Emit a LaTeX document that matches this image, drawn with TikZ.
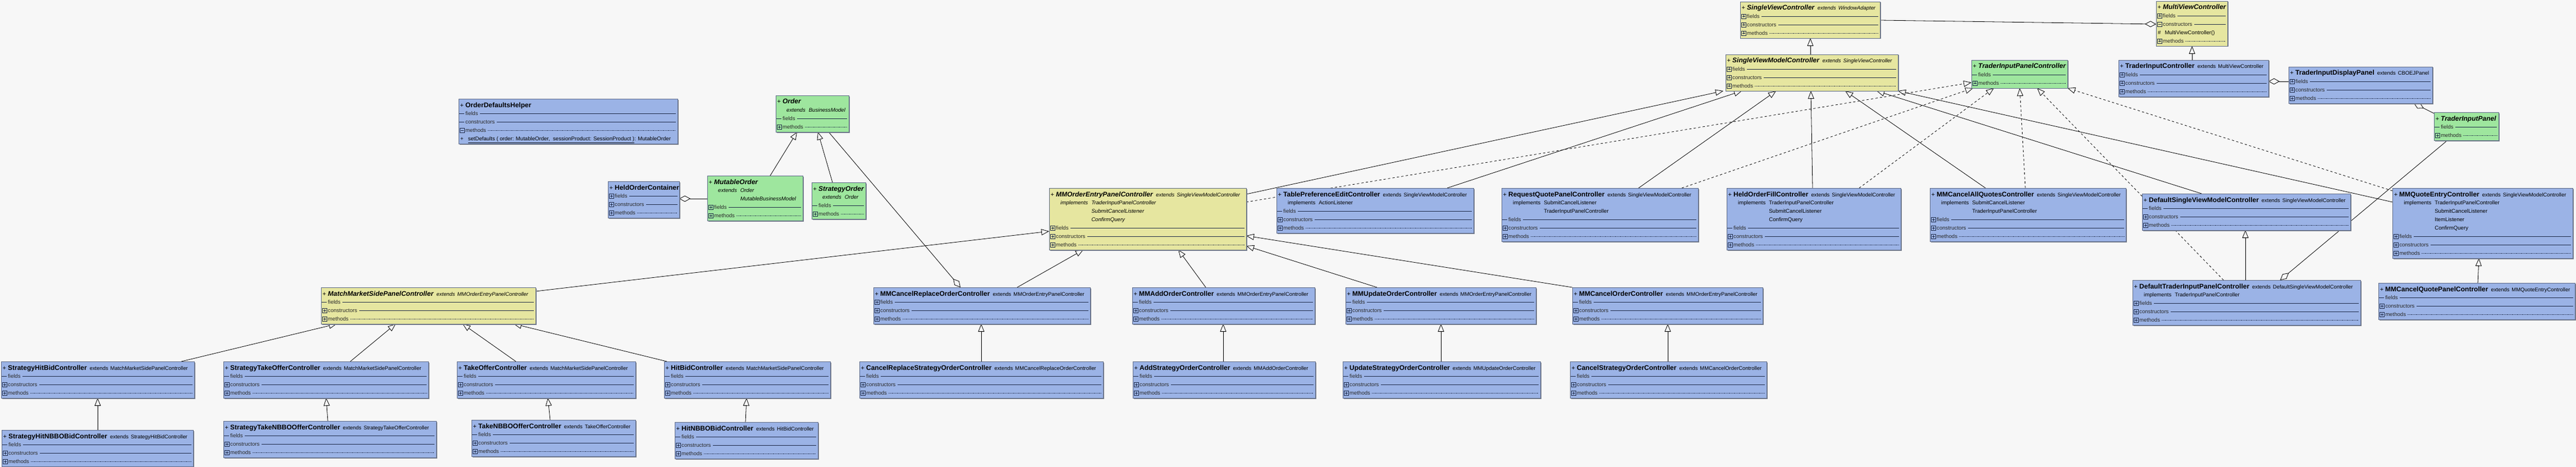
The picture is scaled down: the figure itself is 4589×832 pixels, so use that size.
\documentclass[tikz,border=0pt]{standalone}
\usepackage{fontspec}
\setmainfont{Liberation Sans}
\usetikzlibrary{arrows.meta,calc}
\definecolor{bgc}{HTML}{F7F7F7}
\definecolor{yel}{HTML}{E6E6A0}
\definecolor{grn}{HTML}{9EE69E}
\definecolor{blu}{HTML}{9BB3E6}
\definecolor{sepc}{HTML}{1E2A48}
\definecolor{shd}{HTML}{7E8490}
\definecolor{bordc}{HTML}{5E6A86}
\definecolor{txtc}{HTML}{2A2A2A}
\pgfdeclarelayer{back}
\pgfdeclarelayer{lines}
\pgfsetlayers{back,lines,main}
\tikzset{
  ubox/.style={rectangle, draw=bordc, line width=0.6pt, inner sep=0pt, outer sep=0pt, anchor=north west},
  ttext/.style={anchor=base west, inner sep=0pt, font=\fontsize{12}{14}\selectfont, text=black},
  ctext/.style={anchor=base west, inner sep=0pt, font=\fontsize{9.6}{11}\selectfont, text=txtc},
  septsol/.style={draw=sepc, line width=0.8pt},
  septdot/.style={draw=sepc, line width=0.6pt, dash pattern=on 0.6pt off 1.2pt},
  iconst/.style={draw=sepc, line width=0.6pt},
  inh/.style={draw=black, line width=0.8pt, -{Triangle[open, length=14pt, width=11pt, line width=0.8pt]}},
  real/.style={inh, dash pattern=on 4pt off 4pt},
  agg/.style={draw=black, line width=0.8pt, {Diamond[open, length=20pt, width=11pt, line width=0.8pt]}-}
}
% box: name, x0, x1, top, nlines, colour
\newcommand\ubx[6]{%
  \pgfmathsetmacro\ubw{#3-#2}%
  \pgfmathsetmacro\ubh{15*#5+5}%
  \fill[shd] (#2+1.5,#4+1.5) rectangle ++(\ubw,\ubh);
  \node[ubox, fill=#6, minimum width=\ubw pt, minimum height=\ubh pt] (#1) at (#2,#4) {};
}
\newcommand\uttl[2]{\node[ttext] (#1-t) at ($(#1.north west)+(2.5,15)$) {#2};}
\newcommand\ucn[1]{\textbf{#1}}
\newcommand\uacn[1]{\textbf{\textit{#1}}}
\newcommand\uext[1]{{\fontsize{9.4}{11}\selectfont\hspace{5pt}extends\hspace{4pt}#1}}
\newcommand\uiext[1]{{\fontsize{9.4}{11}\selectfont\itshape\hspace{5pt}extends\hspace{4pt}#1}}
\newcommand\upm{{\fontsize{11}{12}\selectfont+}\hspace{3pt}}
\newcommand\uln[4]{\node[ctext, text=black] (#1-l#2) at ($(#1.north west)+(#3,{14.5+15*#2})$) {#4};}
\newcommand\icp[2]{%
  \draw[iconst] ($(#1.north west)+(2,{7+15*#2})$) rectangle ($(#1.north west)+(10,{15+15*#2})$);
  \draw[iconst] ($(#1.north west)+(3.5,{11+15*#2})$) -- ($(#1.north west)+(8.5,{11+15*#2})$);
  \draw[iconst] ($(#1.north west)+(6,{8.5+15*#2})$) -- ($(#1.north west)+(6,{13.5+15*#2})$);}
\newcommand\icm[2]{%
  \draw[iconst] ($(#1.north west)+(2,{7+15*#2})$) rectangle ($(#1.north west)+(10,{15+15*#2})$);
  \draw[iconst] ($(#1.north west)+(3.5,{11+15*#2})$) -- ($(#1.north west)+(8.5,{11+15*#2})$);}
\newcommand\icd[2]{%
  \draw[iconst] ($(#1.north west)+(1,{11+15*#2})$) -- ($(#1.north west)+(10,{11+15*#2})$);}
% compartment: box, k, icon, label, style
\newcommand\ucomp[5]{%
  \node[ctext] (#1-c#2) at ($(#1.north west)+(12,{14.5+15*#2})$) {#4};
  #3{#1}{#2}%
  \draw[#5] ($(#1-c#2.base east)+(3,-3.5)$) -- ($(#1.north east)+(-3,{11+15*#2})$);
}
\newcommand\ustd[5]{%
  \ucomp{#1}{#2}{#3}{fields}{septsol}
  \pgfmathtruncatemacro\uka{#2+1}\pgfmathtruncatemacro\ukb{#2+2}%
  \ucomp{#1}{\uka}{#4}{constructors}{septsol}
  \ucomp{#1}{\ukb}{#5}{methods}{septdot}
}
\begin{document}
\begin{tikzpicture}[x=1pt,y=-1pt]
\begin{pgfonlayer}{back}
\fill[bgc] (0,0) rectangle (4589,832);
\end{pgfonlayer}
\useasboundingbox (0,0) rectangle (4589,832);

% ---------- top right ----------
\ubx{svc}{3100}{3349}{3}{4}{yel}
\uttl{svc}{\upm\uacn{SingleViewController}\uiext{WindowAdapter}}
\ustd{svc}{1}{\icp}{\icp}{\icp}

\ubx{mvc}{3841}{3968}{2}{5}{yel}
\uttl{mvc}{\upm\uacn{MultiViewController}}
\ucomp{mvc}{1}{\icp}{fields}{septsol}
\ucomp{mvc}{2}{\icm}{constructors}{septsol}
\uln{mvc}{3}{3}{\#\hspace{7pt}MultiViewController()}
\ucomp{mvc}{4}{\icp}{methods}{septdot}

\ubx{svmc}{3074}{3381}{97}{4}{yel}
\uttl{svmc}{\upm\uacn{SingleViewModelController}\uiext{SingleViewController}}
\ustd{svmc}{1}{\icp}{\icp}{\icp}

\ubx{tipc}{3512}{3683}{107}{3}{grn}
\uttl{tipc}{\upm\uacn{TraderInputPanelController}}
\ucomp{tipc}{1}{\icd}{fields}{septsol}
\ucomp{tipc}{2}{\icp}{methods}{septdot}

\ubx{tic}{3774}{4041}{107}{4}{blu}
\uttl{tic}{\upm\ucn{TraderInputController}\uext{MultiViewController}}
\ustd{tic}{1}{\icp}{\icp}{\icp}

\ubx{tidp}{4077}{4333}{119}{4}{blu}
\uttl{tidp}{\upm\ucn{TraderInputDisplayPanel}\uext{CBOEJPanel}}
\ustd{tidp}{1}{\icp}{\icp}{\icp}

\ubx{tip}{4336}{4451}{200}{3}{grn}
\uttl{tip}{\upm\uacn{TraderInputPanel}}
\ucomp{tip}{1}{\icd}{fields}{septsol}
\ucomp{tip}{2}{\icp}{methods}{septdot}

% ---------- upper left ----------
\ubx{odh}{817}{1207}{176}{5}{blu}
\uttl{odh}{\upm\ucn{OrderDefaultsHelper}}
\ucomp{odh}{1}{\icd}{fields}{septsol}
\ucomp{odh}{2}{\icd}{constructors}{septsol}
\ucomp{odh}{3}{\icm}{methods}{septdot}
\uln{odh}{4}{3}{+\hspace{8pt}\underline{setDefaults ( order: MutableOrder,\ \ sessionProduct: SessionProduct )}: MutableOrder}

\ubx{order}{1382}{1512}{170}{4}{grn}
\uttl{order}{\upm\uacn{Order}}
\uln{order}{1}{19}{\textit{extends\hspace{6pt}BusinessModel}}
\ucomp{order}{2}{\icd}{fields}{septsol}
\ucomp{order}{3}{\icp}{methods}{septdot}

\ubx{hoc}{1083}{1210}{323}{4}{blu}
\uttl{hoc}{\upm\ucn{HeldOrderContainer}}
\ustd{hoc}{1}{\icp}{\icp}{\icp}

\ubx{mo}{1260}{1430}{313}{5}{grn}
\uttl{mo}{\upm\uacn{MutableOrder}}
\uln{mo}{1}{19}{\textit{extends\hspace{6pt}Order}}
\uln{mo}{2}{19}{\textit{\phantom{extends\hspace{6pt}}MutableBusinessModel}}
\ucomp{mo}{3}{\icp}{fields}{septsol}
\ucomp{mo}{4}{\icp}{methods}{septdot}

\ubx{so}{1446}{1542}{325}{4}{grn}
\uttl{so}{\upm\uacn{StrategyOrder}}
\uln{so}{1}{19}{\textit{extends\hspace{6pt}Order}}
\ucomp{so}{2}{\icd}{fields}{septsol}
\ucomp{so}{3}{\icp}{methods}{septdot}

% ---------- middle row ----------
\ubx{mmoepc}{1869}{2220}{335}{7}{yel}
\uttl{mmoepc}{\upm\uacn{MMOrderEntryPanelController}\uiext{SingleViewModelController}}
\uln{mmoepc}{1}{20}{\textit{implements\hspace{6pt}TraderInputPanelController}}
\uln{mmoepc}{2}{20}{\textit{\phantom{implements\hspace{6pt}}SubmitCancelListener}}
\uln{mmoepc}{3}{20}{\textit{\phantom{implements\hspace{6pt}}ConfirmQuery}}
\ustd{mmoepc}{4}{\icp}{\icp}{\icp}

\ubx{tpec}{2274}{2625}{335}{5}{blu}
\uttl{tpec}{\upm\ucn{TablePreferenceEditController}\uext{SingleViewModelController}}
\uln{tpec}{1}{20}{implements\hspace{6pt}ActionListener}
\ustd{tpec}{2}{\icd}{\icp}{\icp}

\ubx{rqpc}{2675}{3025}{335}{6}{blu}
\uttl{rqpc}{\upm\ucn{RequestQuotePanelController}\uext{SingleViewModelController}}
\uln{rqpc}{1}{20}{implements\hspace{6pt}SubmitCancelListener}
\uln{rqpc}{2}{20}{\phantom{implements\hspace{6pt}}TraderInputPanelController}
\ustd{rqpc}{3}{\icd}{\icp}{\icp}

\ubx{hofc}{3076}{3386}{335}{7}{blu}
\uttl{hofc}{\upm\ucn{HeldOrderFillController}\uext{SingleViewModelController}}
\uln{hofc}{1}{20}{implements\hspace{6pt}TraderInputPanelController}
\uln{hofc}{2}{20}{\phantom{implements\hspace{6pt}}SubmitCancelListener}
\uln{hofc}{3}{20}{\phantom{implements\hspace{6pt}}ConfirmQuery}
\ustd{hofc}{4}{\icd}{\icp}{\icp}

\ubx{mmcaqc}{3438}{3787}{335}{6}{blu}
\uttl{mmcaqc}{\upm\ucn{MMCancelAllQuotesController}\uext{SingleViewModelController}}
\uln{mmcaqc}{1}{20}{implements\hspace{6pt}SubmitCancelListener}
\uln{mmcaqc}{2}{20}{\phantom{implements\hspace{6pt}}TraderInputPanelController}
\ustd{mmcaqc}{3}{\icp}{\icp}{\icp}

\ubx{dsvmc}{3816}{4187}{345}{4}{blu}
\uttl{dsvmc}{\upm\ucn{DefaultSingleViewModelController}\uext{SingleViewModelController}}
\ustd{dsvmc}{1}{\icd}{\icp}{\icp}

\ubx{mmqec}{4262}{4583}{335}{8}{blu}
\uttl{mmqec}{\upm\ucn{MMQuoteEntryController}\uext{SingleViewModelController}}
\uln{mmqec}{1}{20}{implements\hspace{6pt}TraderInputPanelController}
\uln{mmqec}{2}{20}{\phantom{implements\hspace{6pt}}SubmitCancelListener}
\uln{mmqec}{3}{20}{\phantom{implements\hspace{6pt}}ItemListener}
\uln{mmqec}{4}{20}{\phantom{implements\hspace{6pt}}ConfirmQuery}
\ustd{mmqec}{5}{\icp}{\icp}{\icp}

% ---------- third row ----------
\ubx{mmspc}{572}{954}{512}{4}{yel}
\uttl{mmspc}{\upm\uacn{MatchMarketSidePanelController}\uiext{MMOrderEntryPanelController}}
\ustd{mmspc}{1}{\icd}{\icp}{\icp}

\ubx{mmcroc}{1556}{1942}{512}{4}{blu}
\uttl{mmcroc}{\upm\ucn{MMCancelReplaceOrderController}\uext{MMOrderEntryPanelController}}
\ustd{mmcroc}{1}{\icp}{\icp}{\icp}

\ubx{mmaoc}{2017}{2342}{512}{4}{blu}
\uttl{mmaoc}{\upm\ucn{MMAddOrderController}\uext{MMOrderEntryPanelController}}
\ustd{mmaoc}{1}{\icd}{\icp}{\icp}

\ubx{mmuoc}{2397}{2736}{512}{4}{blu}
\uttl{mmuoc}{\upm\ucn{MMUpdateOrderController}\uext{MMOrderEntryPanelController}}
\ustd{mmuoc}{1}{\icd}{\icp}{\icp}

\ubx{mmcoc}{2801}{3140}{512}{4}{blu}
\uttl{mmcoc}{\upm\ucn{MMCancelOrderController}\uext{MMOrderEntryPanelController}}
\ustd{mmcoc}{1}{\icd}{\icp}{\icp}

\ubx{dtipc}{3799}{4205}{499}{5}{blu}
\uttl{dtipc}{\upm\ucn{DefaultTraderInputPanelController}\uext{DefaultSingleViewModelController}}
\uln{dtipc}{1}{20}{implements\hspace{6pt}TraderInputPanelController}
\ustd{dtipc}{2}{\icp}{\icp}{\icp}

\ubx{mmcqpc}{4237}{4587}{504}{4}{blu}
\uttl{mmcqpc}{\upm\ucn{MMCancelQuotePanelController}\uext{MMQuoteEntryController}}
\ustd{mmcqpc}{1}{\icd}{\icp}{\icp}

% ---------- fourth row ----------
\ubx{shbc}{2}{346}{644}{4}{blu}
\uttl{shbc}{\upm\ucn{StrategyHitBidController}\uext{MatchMarketSidePanelController}}
\ustd{shbc}{1}{\icd}{\icp}{\icp}

\ubx{stoc}{398}{763}{644}{4}{blu}
\uttl{stoc}{\upm\ucn{StrategyTakeOfferController}\uext{MatchMarketSidePanelController}}
\ustd{stoc}{1}{\icd}{\icp}{\icp}

\ubx{toc}{814}{1132}{644}{4}{blu}
\uttl{toc}{\upm\ucn{TakeOfferController}\uext{MatchMarketSidePanelController}}
\ustd{toc}{1}{\icd}{\icp}{\icp}

\ubx{hbc}{1183}{1479}{644}{4}{blu}
\uttl{hbc}{\upm\ucn{HitBidController}\uext{MatchMarketSidePanelController}}
\ustd{hbc}{1}{\icd}{\icp}{\icp}

\ubx{crsoc}{1531}{1965}{644}{4}{blu}
\uttl{crsoc}{\upm\ucn{CancelReplaceStrategyOrderController}\uext{MMCancelReplaceOrderController}}
\ustd{crsoc}{1}{\icd}{\icp}{\icp}

\ubx{asoc}{2018}{2343}{644}{4}{blu}
\uttl{asoc}{\upm\ucn{AddStrategyOrderController}\uext{MMAddOrderController}}
\ustd{asoc}{1}{\icd}{\icp}{\icp}

\ubx{usoc}{2392}{2744}{644}{4}{blu}
\uttl{usoc}{\upm\ucn{UpdateStrategyOrderController}\uext{MMUpdateOrderController}}
\ustd{usoc}{1}{\icd}{\icp}{\icp}

\ubx{csoc}{2797}{3147}{644}{4}{blu}
\uttl{csoc}{\upm\ucn{CancelStrategyOrderController}\uext{MMCancelOrderController}}
\ustd{csoc}{1}{\icd}{\icp}{\icp}

% ---------- fifth row ----------
\ubx{shnbc}{3}{344}{766}{4}{blu}
\uttl{shnbc}{\upm\ucn{StrategyHitNBBOBidController}\uext{StrategyHitBidController}}
\ustd{shnbc}{1}{\icd}{\icp}{\icp}

\ubx{stnoc}{398}{777}{750}{4}{blu}
\uttl{stnoc}{\upm\ucn{StrategyTakeNBBOOfferController}\uext{StrategyTakeOfferController}}
\ustd{stnoc}{1}{\icd}{\icp}{\icp}

\ubx{tnoc}{840}{1132}{748}{4}{blu}
\uttl{tnoc}{\upm\ucn{TakeNBBOOfferController}\uext{TakeOfferController}}
\ustd{tnoc}{1}{\icd}{\icp}{\icp}

\ubx{hnbc}{1202}{1457}{752}{4}{blu}
\uttl{hnbc}{\upm\ucn{HitNBBOBidController}\uext{HitBidController}}
\ustd{hnbc}{1}{\icd}{\icp}{\icp}

% ---------- connectors ----------
\begin{pgfonlayer}{lines}
% generalisation
\draw[inh] ([xshift=151pt]svmc.north west) -- ([xshift=125pt]svc.south west);
\draw[inh] ([xshift=131pt]tic.north west) -- ([xshift=64pt]mvc.south west);
\draw[inh] ([yshift=-11pt]mmoepc.north east) -- ([xshift=-4pt]svmc.south west);
\draw[inh] ([xshift=304pt]tpec.north west) -- ([xshift=29pt]svmc.south west);
\draw[inh] ([xshift=244pt]rqpc.north west) -- ([xshift=90pt]svmc.south west);
\draw[inh] ([xshift=153pt]hofc.north west) -- ([xshift=152pt]svmc.south west);
\draw[inh] ([xshift=99pt]mmcaqc.north west) -- ([xshift=213pt]svmc.south west);
\draw[inh] ([xshift=106pt]dsvmc.north west) -- ([xshift=269pt]svmc.south west);
\draw[inh] ([yshift=-25pt]mmqec.north west) -- (svmc.south east);
\draw[inh] ([yshift=-7pt]mmspc.north east) -- ([yshift=-77pt]mmoepc.north west);
\draw[inh] ([xshift=256pt]mmcroc.north west) -- ([xshift=61pt]mmoepc.south west);
\draw[inh] ([xshift=131pt]mmaoc.north west) -- ([xshift=230pt]mmoepc.south west);
\draw[inh] ([xshift=56pt]mmuoc.north west) -- ([yshift=-103pt]mmoepc.north east);
\draw[inh] (mmcoc.north west) -- ([yshift=-85pt]mmoepc.north east);
\draw[inh] ([xshift=321pt]shbc.north west) -- ([xshift=28pt]mmspc.south west);
\draw[inh] ([xshift=226pt]stoc.north west) -- ([xshift=133pt]mmspc.south west);
\draw[inh] ([xshift=105pt]toc.north west) -- ([xshift=252pt]mmspc.south west);
\draw[inh] ([xshift=5pt]hbc.north west) -- ([xshift=343pt]mmspc.south west);
\draw[inh] ([xshift=171pt]shnbc.north west) -- ([xshift=172pt]shbc.south west);
\draw[inh] ([xshift=186pt]stnoc.north west) -- ([xshift=183pt]stoc.south west);
\draw[inh] ([xshift=140pt]tnoc.north west) -- ([xshift=162pt]toc.south west);
\draw[inh] ([xshift=126pt]hnbc.north west) -- ([xshift=147pt]hbc.south west);
\draw[inh] ([xshift=217pt]crsoc.north west) -- ([xshift=192pt]mmcroc.south west);
\draw[inh] ([xshift=161pt]asoc.north west) -- ([xshift=162pt]mmaoc.south west);
\draw[inh] ([xshift=175pt]usoc.north west) -- ([xshift=170pt]mmuoc.south west);
\draw[inh] ([xshift=174pt]csoc.north west) -- ([xshift=170pt]mmcoc.south west);
\draw[inh] ([xshift=201pt]dtipc.north west) -- ([xshift=184pt]dsvmc.south west);
\draw[inh] ([xshift=177pt]mmcqpc.north west) -- ([xshift=154pt]mmqec.south west);
\draw[inh] ([xshift=112pt]mo.north west) -- ([xshift=38pt]order.south west);
\draw[inh] ([xshift=37pt]so.north west) -- ([xshift=75pt]order.south west);
% realisation
\draw[real] ([yshift=-25pt]mmoepc.north east) -- ([yshift=-40pt]tipc.north west);
\draw[real] ([xshift=321pt]rqpc.north west) -- ([xshift=3pt]tipc.south west);
\draw[real] ([xshift=236pt]hofc.north west) -- ([xshift=40pt]tipc.south west);
\draw[real] ([xshift=170pt]mmcaqc.north west) -- ([xshift=86pt]tipc.south west);
\draw[real] ([xshift=162pt]dtipc.north west) -- ([xshift=117pt]tipc.south west);
\draw[real] ([yshift=-5pt]mmqec.north west) -- (tipc.south east);
% aggregation
\draw[agg] ([yshift=-41pt]mvc.north west) -- ([yshift=-33pt]svc.north east);
\draw[agg] ([yshift=-38pt]tic.north east) -- ([yshift=-26pt]tidp.north west);
\draw[agg] ([xshift=223pt]tidp.south west) -- ([yshift=-2pt]tip.north west);
\draw[agg] ([xshift=263pt]dtipc.north west) -- ([xshift=24pt]tip.south west);
\draw[agg] ([yshift=-31pt]hoc.north east) -- ([yshift=-41pt]mo.north west);
\draw[agg] ([xshift=155pt]mmcroc.north west) -- ([xshift=94pt]order.south west);
\end{pgfonlayer}
\end{tikzpicture}
\end{document}
